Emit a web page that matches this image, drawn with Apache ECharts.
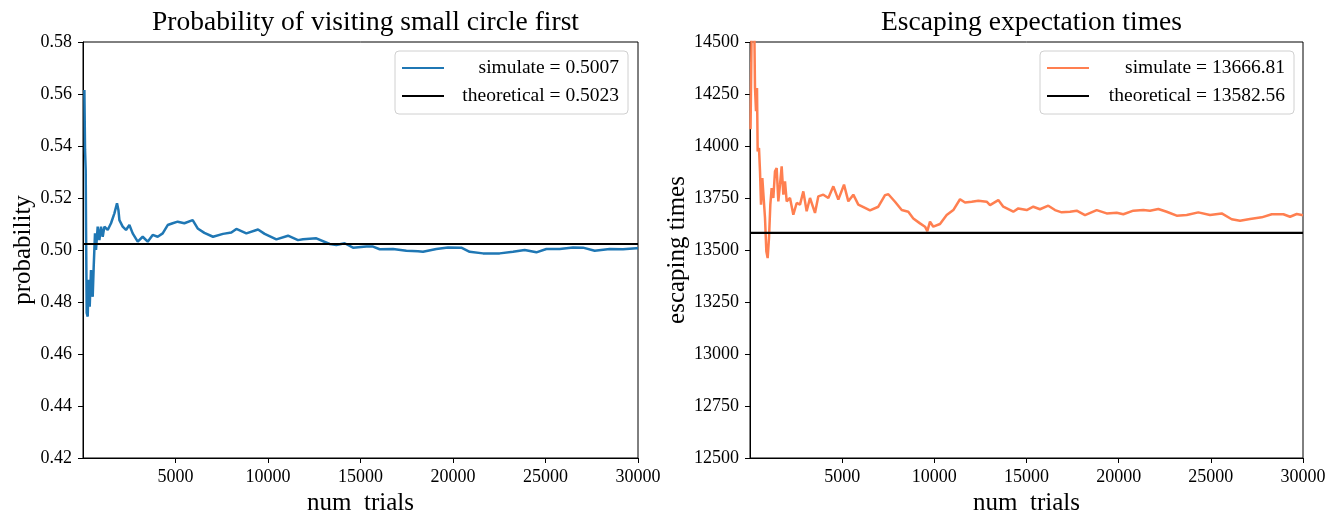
<!DOCTYPE html>
<html>
<head>
<meta charset="utf-8">
<script src="https://cdn.jsdelivr.net/npm/echarts@6/dist/echarts.min.js"></script>
<style>html,body{margin:0;padding:0;background:#fff}#c{width:1341px;height:517px}</style>
</head>
<body>
<div id="c"></div>
<script>
var probTrials = [75,110,146,165,200,254,308,362,432,524,578,649,703,794,886,973,1065,1157,1335,1514,1697,1838,1914,1968,2146,2324,2508,2686,2957,3227,3497,3767,4037,4308,4578,4848,5118,5478,5929,6199,6560,7028,7568,8019,8290,8830,9460,9820,10452,11082,11621,11891,12613,13335,13695,14145,14595,15317,15677,16037,16758,17479,18107,18378,19100,19728,20450,20900,21620,22522,23243,23875,24507,25047,25767,26487,27027,27659,28470,29190,29910,30000];
var probValues = [0.5615,0.5385,0.5308,0.5077,0.4758,0.4744,0.4885,0.4782,0.4923,0.4820,0.4936,0.5064,0.5000,0.5090,0.5038,0.5090,0.5051,0.5090,0.5077,0.5103,0.5141,0.5180,0.5154,0.5115,0.5090,0.5077,0.5096,0.5064,0.5032,0.5051,0.5032,0.5058,0.5051,0.5064,0.5096,0.5103,0.5109,0.5103,0.5115,0.5083,0.5066,0.5051,0.5062,0.5067,0.5081,0.5064,0.5079,0.5062,0.5041,0.5055,0.5038,0.5041,0.5045,0.5023,0.5019,0.5026,0.5009,0.5013,0.5013,0.5003,0.5004,0.4997,0.4995,0.4993,0.5004,0.5010,0.5009,0.4993,0.4987,0.4987,0.4993,0.5000,0.4991,0.5004,0.5004,0.5010,0.5009,0.4997,0.5004,0.5003,0.5007,0.5007];
var probTheory = 0.5023;
var probSim = 0.5007;

var escTrials = [30,100,160,235,271,326,380,416,488,543,597,669,741,814,886,958,1031,1103,1175,1266,1356,1447,1537,1628,1718,1809,1899,1990,2170,2351,2532,2713,2893,3074,3255,3526,3707,3978,4250,4521,4792,5100,5334,5605,5876,6239,6510,6961,7325,7506,7867,8231,8588,8859,9223,9494,9619,9765,9944,10307,10669,11030,11393,11665,12027,12386,12841,13020,13471,13742,14284,14556,15011,15369,15731,16183,16546,16910,17359,17722,18175,18808,19350,19893,20253,20796,21338,21700,22152,22605,23148,23690,24321,24955,25590,26132,26584,27126,27760,28303,28936,29298,29660,30000];
var escValues = [14080,14650,14700,14560,14279,14167,14279,13974,13990,13878,13718,13846,13750,13654,13494,13461,13558,13718,13798,13750,13878,13894,13734,13814,13902,13766,13830,13734,13750,13670,13726,13718,13782,13686,13750,13678,13758,13766,13750,13806,13742,13814,13734,13766,13718,13702,13690,13708,13764,13768,13732,13692,13684,13652,13628,13612,13591,13636,13612,13625,13668,13692,13744,13728,13732,13737,13732,13716,13740,13708,13684,13700,13692,13708,13696,13713,13692,13681,13684,13689,13668,13692,13676,13679,13672,13689,13692,13689,13697,13684,13665,13668,13681,13668,13676,13648,13641,13649,13657,13672,13672,13660,13673,13667];
var escTheory = 13582.56;
var escSim = 13666.81;

var xTicks = [5000,10000,15000,20000,25000,30000];

function zip(a,b){return a.map(function(v,i){return [v,b[i]];});}

var SERIF = '"Liberation Serif","DejaVu Serif",serif';
var nameSim1 = 'simulate = ' + probSim.toFixed(4);
var nameTh1 = 'theoretical = ' + probTheory.toFixed(4);
var nameSim2 = 'simulate = ' + escSim.toFixed(2);
var nameTh2 = 'theoretical = ' + escTheory.toFixed(2);
var LINE_ICON = 'path://M0 0H42V2H0Z';

function xAxis(idx){
  return {
    type:'value', gridIndex: idx, min:0, max:30000, interval:5000,
    name:'num  trials', nameLocation:'middle', nameGap:32,
    nameTextStyle:{fontFamily:SERIF, fontSize:25, color:'#000'},
    axisLine:{show:true, lineStyle:{color:'#000', width:1}},
    axisTick:{show:true, length:5, lineStyle:{color:'#000'}, customValues: xTicks},
    axisLabel:{fontFamily:SERIF, fontSize:18, color:'#000', margin:10, customValues: xTicks,
      formatter:function(v){return String(v);}},
    splitLine:{show:false}
  };
}
function legend(left, names, w){
  return {
    orient:'vertical', left:left, top:51, padding:[7,9,8,7],
    itemWidth:42, itemHeight:20, itemGap:8, icon: LINE_ICON,
    backgroundColor:'rgba(255,255,255,0.8)', borderColor:'#d0d0d0', borderWidth:1, borderRadius:4,
    data: names,
    formatter: function(n){return '{t|' + n + '}';},
    textStyle:{fontFamily:SERIF, fontSize:19.5, color:'#000',
      rich:{t:{width:w, align:'right', fontFamily:SERIF, fontSize:19.5, color:'#000'}}}
  };
}

var chart = echarts.init(document.getElementById('c'), null, {renderer:'canvas'});
chart.setOption({
  animation:false,
  backgroundColor:'#fff',
  title:[
    {text:'Probability of visiting small circle first', left:360.5, top:4, textAlign:'center',
     textStyle:{fontFamily:SERIF, fontSize:27.5, fontWeight:'normal', color:'#000'}},
    {text:'Escaping expectation times', left:1026.5, top:4, textAlign:'center',
     textStyle:{fontFamily:SERIF, fontSize:27.5, fontWeight:'normal', color:'#000'}}
  ],
  grid:[
    {left:83, right:703, top:42, bottom:59, show:true, borderColor:'#000', borderWidth:1, backgroundColor:'transparent', containLabel:false, outerBoundsMode:'none'},
    {left:750, right:38, top:42, bottom:59, show:true, borderColor:'#000', borderWidth:1, backgroundColor:'transparent', containLabel:false, outerBoundsMode:'none'}
  ],
  legend:[legend(395, [nameSim1, nameTh1], 170), legend(1040, [nameSim2, nameTh2], 191)],
  xAxis:[xAxis(0), xAxis(1)],
  yAxis:[
    {type:'value', gridIndex:0, min:0.42, max:0.58, interval:0.02,
     name:'probability', nameLocation:'middle', nameGap:47, nameRotate:90,
     nameTextStyle:{fontFamily:SERIF, fontSize:25, color:'#000'},
     axisLine:{show:true, lineStyle:{color:'#000', width:1}},
     axisTick:{show:true, length:5, lineStyle:{color:'#000'}},
     axisLabel:{fontFamily:SERIF, fontSize:18, color:'#000', margin:11, formatter:function(v){return v.toFixed(2);}},
     splitLine:{show:false}},
    {type:'value', gridIndex:1, min:12500, max:14500, interval:250,
     name:'escaping times', nameLocation:'middle', nameGap:57, nameRotate:90,
     nameTextStyle:{fontFamily:SERIF, fontSize:25, color:'#000'},
     axisLine:{show:true, lineStyle:{color:'#000', width:1}},
     axisTick:{show:true, length:5, lineStyle:{color:'#000'}},
     axisLabel:{fontFamily:SERIF, fontSize:18, color:'#000', margin:11, formatter:function(v){return String(v);}},
     splitLine:{show:false}}
  ],
  series:[
    {name:nameSim1, type:'line', xAxisIndex:0, yAxisIndex:0, data:zip(probTrials, probValues),
     symbol:'none', lineStyle:{color:'#1f77b4', width:2.5}, itemStyle:{color:'#1f77b4'}, clip:true},
    {name:nameTh1, type:'line', xAxisIndex:0, yAxisIndex:0, data:[[0,probTheory],[30000,probTheory]],
     symbol:'none', lineStyle:{color:'#000', width:2.2}, itemStyle:{color:'#000'}},
    {name:nameSim2, type:'line', xAxisIndex:1, yAxisIndex:1, data:zip(escTrials, escValues),
     symbol:'none', lineStyle:{color:'#ff7f50', width:2.5}, itemStyle:{color:'#ff7f50'}, clip:true},
    {name:nameTh2, type:'line', xAxisIndex:1, yAxisIndex:1, data:[[0,escTheory],[30000,escTheory]],
     symbol:'none', lineStyle:{color:'#000', width:2.2}, itemStyle:{color:'#000'}}
  ]
});
</script>
</body>
</html>
